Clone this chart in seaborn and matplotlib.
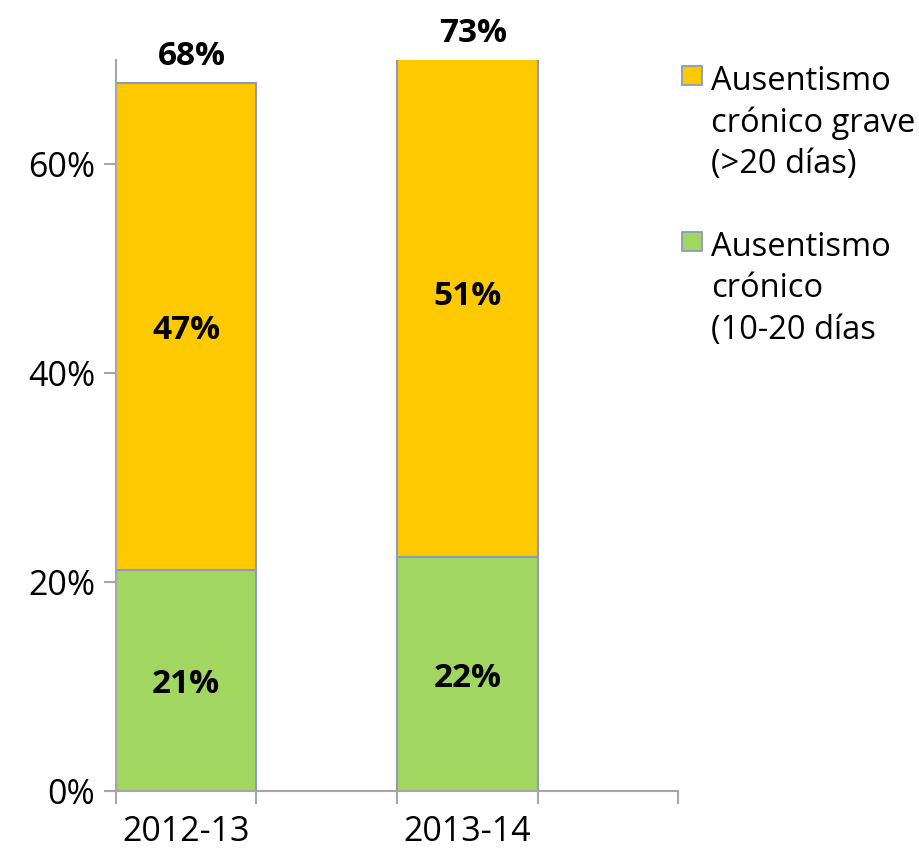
import matplotlib
matplotlib.use("Agg")
import matplotlib.pyplot as plt
import seaborn as sns
import pandas as pd
from matplotlib.patches import Rectangle
from matplotlib.ticker import FixedLocator, PercentFormatter

# ---- data ----
years = ["2012-13", "2013-14"]
slots = ["2012-13", " ", "2013-14", "  "]          # Excel-like layout with empty slots
cronico = [0.212, 0.224]                             # 10-20 días (green)
grave = [0.466, 0.506]                               # >20 días (yellow)
totals = [c + g for c, g in zip(cronico, grave)]
legend_labels = ["Ausentismo\ncrónico grave\n(>20 días)", "Ausentismo\ncrónico\n(10-20 días"]
yticks = [0, 0.2, 0.4, 0.6]
YMAX = 0.7

YELLOW = "#FFC900"
GREEN = "#A1D661"
EDGE = "#8D9AB9"
AXC = "#A6A6A6"

sns.set_style("white")
plt.rcParams["font.family"] = ["Open Sans", "DejaVu Sans"]
plt.rcParams["text.color"] = "black"
plt.rcParams["xtick.color"] = "black"
plt.rcParams["ytick.color"] = "black"

fig = plt.figure(figsize=(9.2, 8.52), dpi=100)
ax = fig.add_axes([0.126, 0.0716, 0.611, 0.858])

df_tot = pd.DataFrame({"year": years, "value": totals})
df_green = pd.DataFrame({"year": years, "value": cronico})

sns.barplot(data=df_tot, x="year", y="value", order=slots, color=YELLOW,
            width=1.0, edgecolor=EDGE, linewidth=1.5, errorbar=None,
            saturation=1, ax=ax)
sns.barplot(data=df_green, x="year", y="value", order=slots, color=GREEN,
            width=1.0, edgecolor=EDGE, linewidth=1.5, errorbar=None,
            saturation=1, ax=ax)

ax.set_xlim(-0.5, 3.5)
ax.set_ylim(0, YMAX)
ax.set_xlabel("")
ax.set_ylabel("")

# ticks
ax.yaxis.set_major_locator(FixedLocator(yticks))
ax.yaxis.set_major_formatter(PercentFormatter(1.0, decimals=0))
ax.tick_params(axis="y", which="major", length=9, width=1.5, color=AXC,
               labelsize=24.5, pad=6, left=True, labelcolor="black")
ax.set_xticks([0, 2])
ax.set_xticklabels(years)
ax.tick_params(axis="x", which="major", length=0, labelsize=24.5, pad=17,
               labelcolor="black")
ax.set_xticks([-0.5, 0.5, 1.5, 2.5, 3.5], minor=True)
ax.tick_params(axis="x", which="minor", length=9, width=1.5, color=AXC, bottom=True)

for s in ["top", "right"]:
    ax.spines[s].set_visible(False)
for s in ["left", "bottom"]:
    ax.spines[s].set_color(AXC)
    ax.spines[s].set_linewidth(1.5)
ax.spines["bottom"].set_bounds(-0.5 - 0.08, 3.5)

# segment labels
xpos = {"2012-13": 0, "2013-14": 2}
for i, y in enumerate(years):
    x = xpos[y]
    ax.text(x, cronico[i] / 2, f"{round(cronico[i]*100)}%", ha="center",
            va="center_baseline", fontsize=24, fontweight="bold")
    ax.text(x, cronico[i] + grave[i] / 2, f"{round(grave[i]*100)}%", ha="center",
            va="center_baseline", fontsize=24, fontweight="bold")
    ytop = min(totals[i], YMAX)
    ax.text(x + 0.04, ytop + 0.01, f"{round(totals[i]*100)}%", ha="center",
            va="bottom", fontsize=24, fontweight="bold", clip_on=False)

# legend (square handles aligned with first text line, as in the reference)
W, H = 920.0, 852.0
colors = [YELLOW, GREEN]
tops = [66, 232]
for lab, col, t in zip(legend_labels, colors, tops):
    fig.patches.append(Rectangle((682 / W, 1 - (t + 19) / H), 20 / W, 19 / H,
                                 transform=fig.transFigure, facecolor=col,
                                 edgecolor=EDGE, linewidth=1.3))
    fig.text(711 / W, 1 - (t - 1) / H, lab, ha="left", va="top",
             fontsize=23.5, linespacing=1.33)

fig.savefig("out.png", dpi=100)
